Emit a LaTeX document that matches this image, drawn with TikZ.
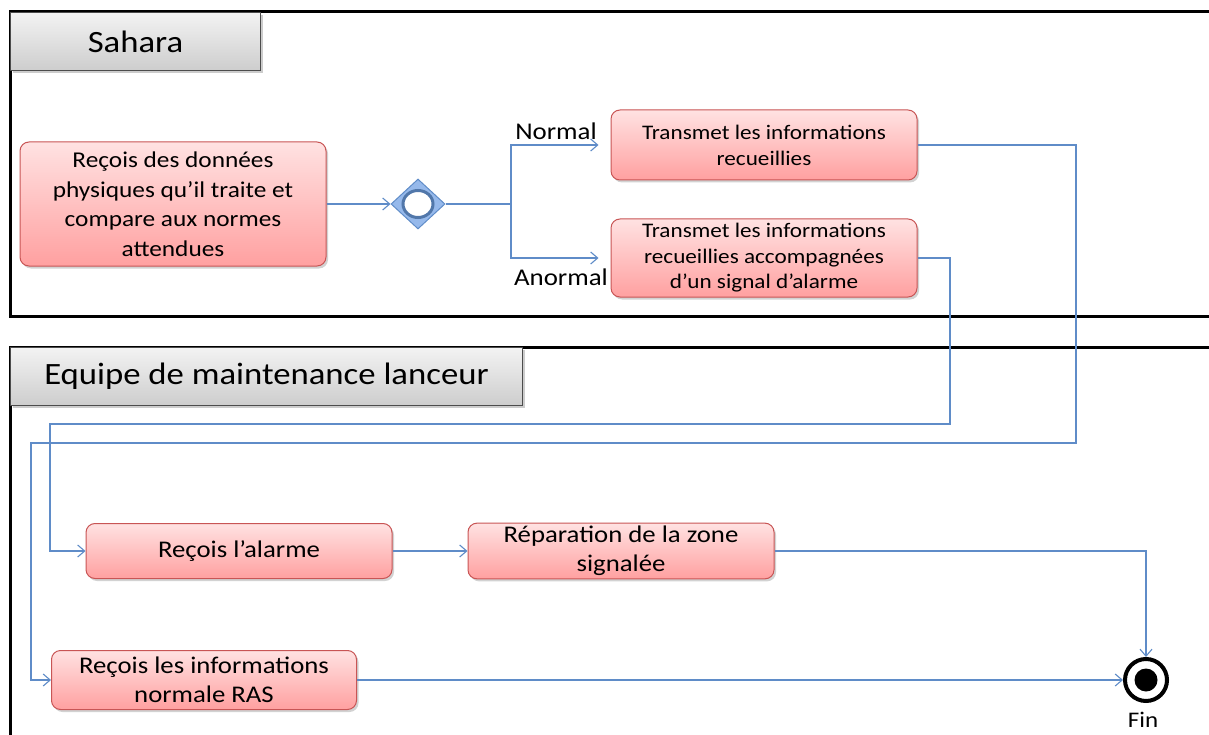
\documentclass[tikz,border=0pt]{standalone}
\usepackage{fontspec}
\setmainfont{Carlito}[FakeStretch=1.12]
\usetikzlibrary{arrows.meta,shapes.geometric,shadows}
\definecolor{flowc}{RGB}{95,140,200}
\definecolor{boxborder}{RGB}{200,85,85}
\definecolor{boxtop}{RGB}{255,226,226}
\definecolor{boxbot}{RGB}{255,160,160}
\definecolor{hdrtop}{RGB}{243,243,243}
\definecolor{hdrbot}{RGB}{205,205,205}
\definecolor{diafill}{RGB}{150,185,235}
\tikzset{
  actbox/.style={draw=boxborder, line width=1pt, rounded corners=9pt, top color=boxtop, bottom color=boxbot,
    minimum width=306pt, align=center, inner sep=3pt,
    drop shadow={shadow xshift=2pt, shadow yshift=-2.5pt, opacity=0.35}},
  hdr/.style={draw=black!70, line width=1pt, top color=hdrtop, bottom color=hdrbot, anchor=north west,
    font=\fontsize{31}{35}\selectfont, inner sep=0pt,
    drop shadow={shadow xshift=2.5pt, shadow yshift=-2.5pt, opacity=0.4}},
  lane/.style={draw=black, line width=3pt},
  flow/.style={draw=flowc, line width=1.1pt, -{Straight Barb[length=7pt,width=12pt,line width=1.1pt]}},
  flown/.style={draw=flowc, line width=1.1pt},
  lbl/.style={font=\fontsize{24}{28}\selectfont, inner sep=0pt},
}
\begin{document}
\begin{tikzpicture}[x=1pt,y=-1pt]
\useasboundingbox[fill=white] (0,0) rectangle (1209,735);
% lanes
\draw[lane] (1215,12) -- (10,12) -- (10,316) -- (1215,316);
\draw[lane] (1215,347) -- (10,347) -- (10,745);
\node[hdr, minimum width=250pt, minimum height=58pt] (h1) at (10,12) {Sahara};
\node[hdr, minimum width=512pt, minimum height=58pt] (h2) at (10,347) {Equipe de maintenance lanceur};
% nodes
\node[actbox, minimum height=124pt, font=\fontsize{22.6}{29.5}\selectfont] (A) at (173,204)
  {Reçois des données\\physiques qu’il traite et\\compare aux normes\\attendues};
\node[diamond, draw=flowc, fill=diafill, line width=1pt, minimum width=54pt, minimum height=50pt, inner sep=0pt] (dec) at (418,204) {};
\node[ellipse, draw=flowc!85!black, fill=white, line width=3pt, minimum width=30pt, minimum height=27pt, inner sep=0pt] (decin) at (dec.center) {};
\node[actbox, minimum height=70pt, font=\fontsize{20.7}{26}\selectfont] (B1) at (764,145)
  {Transmet les informations\\recueillies};
\node[actbox, minimum height=78pt, font=\fontsize{20.7}{25.5}\selectfont] (B2) at (764,258)
  {Transmet les informations\\recueillies accompagnées\\d’un signal d’alarme};
\node[actbox, minimum height=55pt, font=\fontsize{23.9}{29}\selectfont] (C) at (239,551) {Reçois l’alarme};
\node[actbox, minimum height=55pt, font=\fontsize{23.9}{29}\selectfont] (E) at (621,551) {Réparation de la zone\\signalée};
\node[actbox, minimum height=59pt, minimum width=305pt, font=\fontsize{23.9}{29}\selectfont] (D) at (204,680) {Reçois les informations\\normale RAS};
\node[circle, draw=black, line width=4pt, minimum size=42pt, inner sep=0pt, fill=white] (fin) at (1146,680) {};
\fill[black] (fin.center) circle (11.5);
\node[lbl, font=\fontsize{22.3}{26}\selectfont] (finl) at (1143,720) {Fin};
\node[lbl] (nl) at (556,131) {Normal};
\node[lbl] (al) at (561,277) {Anormal};
% connectors
\coordinate (split) at (511,204);
\draw[flow] (A.east) -- (dec.west);
\draw[flown] (dec.east) -- (split);
\draw[flow, shorten >=12pt] (split) |- (B1.west);
\draw[flow, shorten >=12pt] (split) |- (B2.west);
\coordinate (r1) at (1076,443);
\coordinate (l1) at (31,680);
\draw[flow] (B1.east) -| (r1) -| (l1) -- (D.west);
\coordinate (r2) at (950,424);
\coordinate (l2) at (50,551);
\draw[flow] (B2.east) -| (r2) -| (l2) -- (C.west);
\draw[flow] (C.east) -- (E.west);
\draw[flow] (E.east) -| (fin.north);
\draw[flow] (D.east) -- (fin.west);
\end{tikzpicture}
\end{document}
